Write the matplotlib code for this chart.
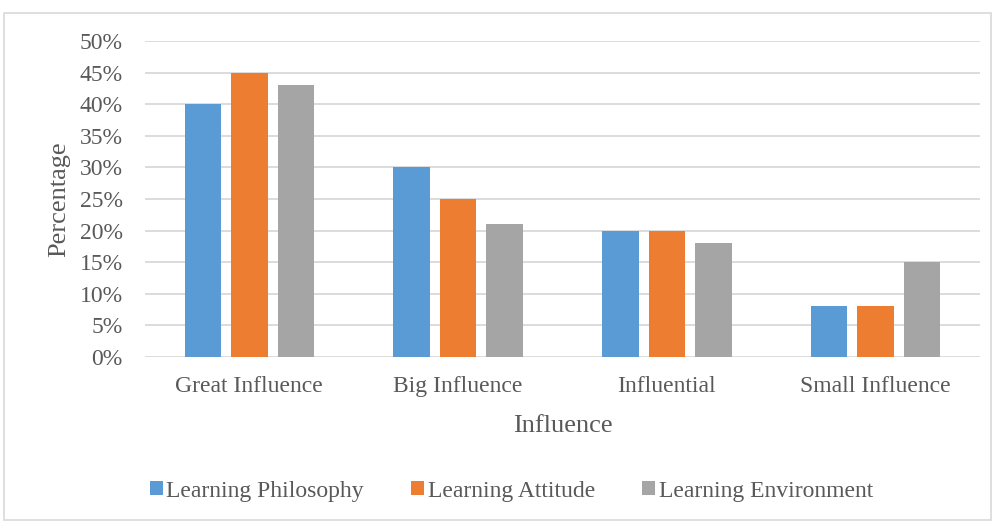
import numpy as np
import matplotlib.pyplot as plt
from matplotlib.patches import Rectangle

categories = ['Great Influence', 'Big Influence', 'Influential', 'Small Influence']
philosophy = [40, 30, 20, 8]
attitude = [45, 25, 20, 8]
environment = [43, 21, 18, 15]
series_names = ['Learning Philosophy', 'Learning Attitude', 'Learning Environment']
colors = ['#5B9BD5', '#ED7D31', '#A5A5A5']

plt.rcParams['font.family'] = ['Liberation Serif', 'DejaVu Serif']
text_color = '#595959'

fig = plt.figure(figsize=(9.97, 5.23), dpi=100)
ax = fig.add_axes([0.1454, 0.3174, 0.8376, 0.6042])

x = np.arange(len(categories))
w = 0.175
off = 0.223
for i, (vals, name, c) in enumerate(zip([philosophy, attitude, environment], series_names, colors)):
    ax.bar(x + (i - 1) * off, vals, width=w, color=c, label=name, zorder=3)

ax.set_xlim(-0.5, 3.5)
ax.set_ylim(0, 50)
ax.set_yticks(range(0, 51, 5))
ax.set_yticklabels([f'{v}%' for v in range(0, 51, 5)])
ax.set_xticks(x)
ax.set_xticklabels(categories)
ax.grid(axis='y', color='#D9D9D9', linewidth=1.3, zorder=0)
for s in ax.spines.values():
    s.set_visible(False)
ax.tick_params(axis='both', length=0, labelsize=17, labelcolor=text_color)
ax.tick_params(axis='y', pad=16)
ax.tick_params(axis='x', pad=14)
ax.set_xlabel('Influence', fontsize=19, color=text_color, labelpad=13)
ax.set_ylabel('Percentage', fontsize=19, color=text_color, labelpad=7)

leg = fig.legend(loc='center', bbox_to_anchor=(0.513, 0.061), ncol=3, frameon=False,
                 fontsize=17, handlelength=0.55, handleheight=0.55, handletextpad=0.15,
                 columnspacing=2.0, labelcolor=text_color)

fig.patches.append(Rectangle((0.004, 0.006), 0.99, 0.97, transform=fig.transFigure,
                             fill=False, edgecolor='#D9D9D9', linewidth=1.2))

plt.savefig('out.png', dpi=100)
